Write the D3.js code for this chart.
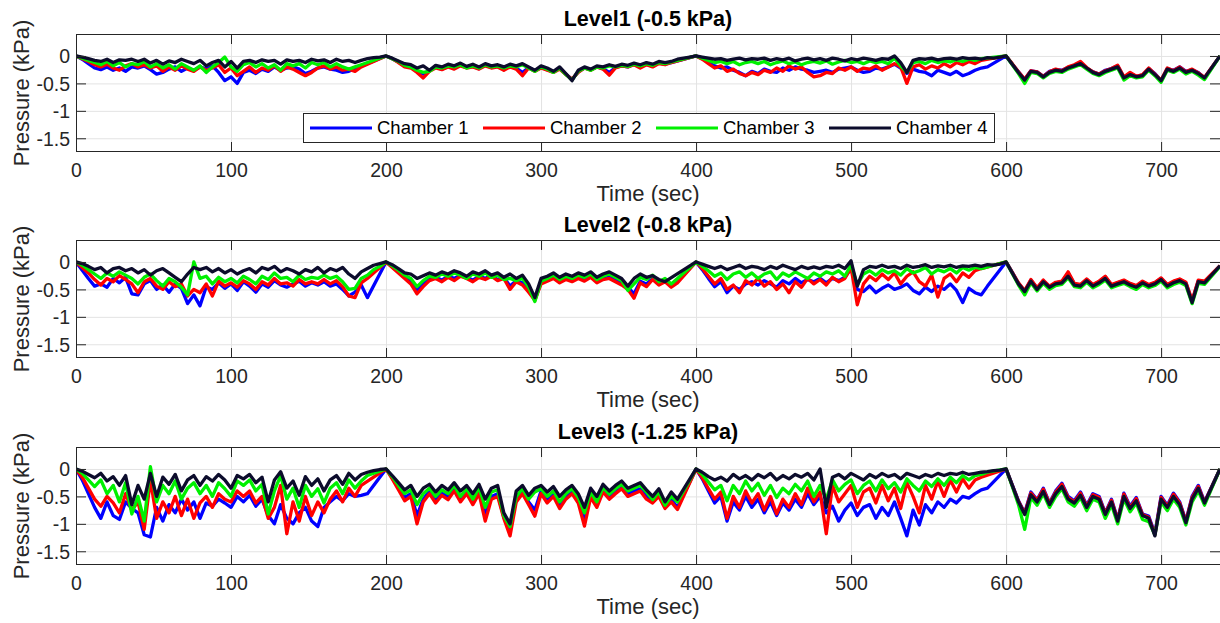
<!DOCTYPE html>
<html><head><meta charset="utf-8">
<script src="https://cdn.jsdelivr.net/npm/d3@7"></script>
<style>
body{margin:0;background:#fff}
svg{display:block}
text{font-family:"Liberation Sans",Arial,Helvetica,sans-serif}
</style>
</head><body>
<svg id="chart" width="1220" height="623"></svg>
<script>
// ---------------- DATA ----------------
const timeSec = [
0,4,8,12,16,20,24,28,32,36,
40,44,48,52,56,60,64,68,72,76,
80,84,88,92,96,100,104,108,112,116,
120,124,128,132,136,140,144,148,152,156,
160,164,168,172,176,180,184,188,192,196,
200,204,208,212,216,220,224,228,232,236,
240,244,248,252,256,260,264,268,272,276,
280,284,288,292,296,300,304,308,312,316,
320,324,328,332,336,340,344,348,352,356,
360,364,368,372,376,380,384,388,392,396,
400,404,408,412,416,420,424,428,432,436,
440,444,448,452,456,460,464,468,472,476,
480,484,488,492,496,500,504,508,512,516,
520,524,528,532,536,540,544,548,552,556,
560,564,568,572,576,580,584,588,592,596,
600,604,608,612,616,620,624,628,632,636,
640,644,648,652,656,660,664,668,672,676,
680,684,688,692,696,700,704,708,712,716,
720,724,728,732,736,738];

const seriesNames = ["Chamber 1","Chamber 2","Chamber 3","Chamber 4"];
const panelTitles = ["Level1 (-0.5 kPa)","Level2 (-0.8 kPa)","Level3 (-1.25 kPa)"];
const xTicks = [0,100,200,300,400,500,600,700];
const xTickLabels = ["0","100","200","300","400","500","600","700"];
const yTicks = [0,-0.5,-1,-1.5];
const yTickLabels = ["0","-0.5","-1","-1.5"];
const xLabel = "Time (sec)";
const yLabel = "Pressure (kPa)";

// Level 1
const L1_ch1 = [
0,-0.06,-0.14,-0.22,-0.25,-0.2,-0.26,-0.22,-0.28,-0.2,
-0.22,-0.18,-0.25,-0.33,-0.3,-0.24,-0.2,-0.28,-0.22,-0.26,
-0.2,-0.24,-0.18,-0.3,-0.45,-0.38,-0.5,-0.3,-0.26,-0.32,
-0.24,-0.28,-0.2,-0.26,-0.22,-0.2,-0.24,-0.32,-0.28,-0.22,
-0.2,-0.24,-0.26,-0.3,-0.28,null,null,null,null,null,
0,-0.05,-0.11,-0.18,-0.2,-0.28,-0.33,-0.26,-0.2,-0.24,
-0.19,-0.22,-0.17,-0.21,-0.19,-0.23,-0.17,-0.21,-0.19,-0.24,
-0.19,-0.22,-0.3,-0.21,-0.27,-0.21,-0.25,-0.29,-0.23,-0.33,
-0.43,-0.29,-0.22,-0.25,-0.2,-0.23,-0.3,-0.21,-0.18,-0.2,
-0.15,-0.2,-0.15,-0.19,-0.13,-0.15,-0.12,null,null,null,
0,-0.05,-0.12,-0.18,-0.22,-0.2,-0.26,-0.3,-0.36,-0.28,
-0.32,-0.24,-0.28,-0.3,-0.22,-0.26,-0.2,-0.24,-0.26,-0.3,
-0.28,-0.26,-0.3,-0.24,-0.22,-0.2,-0.26,-0.3,-0.28,-0.22,
-0.24,-0.2,-0.15,-0.22,-0.32,-0.24,-0.28,-0.3,-0.36,-0.26,
-0.3,-0.34,-0.28,-0.36,-0.32,-0.26,-0.22,-0.2,null,null,
0,-0.15,-0.29,-0.43,-0.27,-0.29,-0.37,-0.28,-0.25,-0.26,
-0.21,-0.17,-0.12,-0.22,-0.29,-0.33,-0.26,-0.23,-0.18,-0.39,
-0.32,-0.37,-0.35,-0.23,-0.32,-0.45,-0.23,-0.26,-0.2,-0.28,
-0.25,-0.3,-0.4,null,null,0];

const L1_ch2 = [
0,-0.05,-0.1,-0.16,-0.2,-0.15,-0.22,-0.26,-0.18,-0.14,
-0.2,-0.16,-0.22,-0.18,-0.28,-0.2,-0.26,-0.18,-0.24,-0.28,
-0.2,-0.26,-0.22,-0.16,-0.3,-0.22,-0.36,-0.28,-0.2,-0.3,
-0.22,-0.26,-0.18,-0.28,-0.2,-0.24,-0.3,-0.36,-0.3,-0.22,
-0.18,-0.24,-0.2,-0.26,-0.24,-0.28,-0.2,null,null,null,
0,-0.05,-0.12,-0.2,-0.22,-0.3,-0.4,-0.28,-0.22,-0.25,
-0.2,-0.24,-0.18,-0.22,-0.2,-0.24,-0.18,-0.22,-0.2,-0.26,
-0.2,-0.24,-0.36,-0.22,-0.28,-0.22,-0.26,-0.3,-0.24,-0.34,
-0.42,-0.3,-0.22,-0.26,-0.2,-0.24,-0.35,-0.22,-0.18,-0.2,
-0.16,-0.22,-0.16,-0.2,-0.14,-0.16,-0.12,null,null,null,
0,-0.06,-0.14,-0.22,-0.18,-0.28,-0.24,-0.32,-0.36,-0.3,
-0.34,-0.26,-0.3,-0.22,-0.28,-0.18,-0.24,-0.2,-0.3,-0.38,
-0.36,-0.3,-0.32,-0.22,-0.26,-0.2,-0.28,-0.22,-0.24,-0.18,
-0.26,-0.2,-0.14,-0.2,-0.5,-0.2,-0.16,-0.24,-0.18,-0.22,
-0.14,-0.2,-0.12,-0.16,-0.1,-0.14,-0.08,null,null,null,
0,-0.14,-0.29,-0.42,-0.27,-0.29,-0.37,-0.29,-0.24,-0.27,
-0.2,-0.16,-0.1,-0.21,-0.29,-0.33,-0.27,-0.23,-0.17,-0.38,
-0.3,-0.37,-0.34,-0.22,-0.33,-0.44,-0.22,-0.27,-0.2,-0.29,
-0.24,-0.31,-0.39,null,null,0];

const L1_ch3 = [
0,-0.04,-0.08,-0.12,-0.16,-0.1,-0.18,-0.12,-0.2,-0.14,
-0.16,-0.1,-0.2,-0.14,-0.22,-0.16,-0.24,-0.14,-0.2,-0.26,
-0.18,-0.3,-0.2,-0.12,-0.02,-0.2,-0.28,-0.16,-0.12,-0.2,
-0.14,-0.22,-0.16,-0.26,-0.14,-0.18,-0.14,-0.22,-0.12,-0.16,
-0.12,-0.2,-0.14,-0.2,-0.24,-0.2,-0.16,-0.12,null,null,
0,-0.05,-0.1,-0.17,-0.2,-0.26,-0.3,-0.28,-0.2,-0.22,
-0.18,-0.2,-0.16,-0.22,-0.18,-0.22,-0.16,-0.2,-0.18,-0.22,
-0.18,-0.2,-0.16,-0.22,-0.28,-0.2,-0.24,-0.3,-0.22,-0.34,
-0.44,-0.28,-0.22,-0.26,-0.2,-0.22,-0.18,-0.2,-0.17,-0.19,
-0.15,-0.18,-0.14,-0.17,-0.12,-0.14,-0.11,-0.08,null,null,
0,-0.04,-0.08,-0.12,-0.1,-0.14,-0.1,-0.16,-0.12,-0.1,
-0.14,-0.1,-0.16,-0.12,-0.09,-0.14,-0.11,-0.16,-0.12,-0.1,
-0.13,-0.09,-0.15,-0.11,-0.08,-0.12,-0.1,-0.14,-0.09,-0.12,
-0.1,-0.14,-0.04,-0.18,-0.3,-0.12,-0.1,-0.14,-0.08,-0.12,
-0.09,-0.11,-0.07,-0.1,-0.06,-0.08,-0.05,null,null,null,
0,-0.16,-0.32,-0.5,-0.3,-0.32,-0.4,-0.32,-0.28,-0.3,
-0.24,-0.2,-0.16,-0.24,-0.32,-0.36,-0.3,-0.26,-0.22,-0.44,
-0.36,-0.4,-0.38,-0.26,-0.36,-0.48,-0.26,-0.3,-0.24,-0.33,
-0.28,-0.35,-0.43,null,null,0];

const L1_ch4 = [
0,-0.02,-0.05,-0.08,-0.1,-0.06,-0.12,-0.07,-0.08,-0.06,
-0.1,-0.06,-0.13,-0.08,-0.15,-0.09,-0.12,-0.06,-0.1,-0.14,
-0.08,-0.18,-0.12,-0.08,-0.2,-0.1,-0.22,-0.1,-0.08,-0.12,
-0.07,-0.1,-0.08,-0.15,-0.07,-0.1,-0.08,-0.12,-0.06,-0.09,
-0.07,-0.12,-0.06,-0.1,-0.08,-0.12,-0.08,-0.05,-0.03,-0.02,
0,-0.04,-0.09,-0.14,-0.16,-0.22,-0.18,-0.26,-0.17,-0.2,
-0.15,-0.18,-0.13,-0.19,-0.15,-0.2,-0.14,-0.18,-0.16,-0.2,
-0.15,-0.18,-0.14,-0.2,-0.26,-0.18,-0.22,-0.28,-0.2,-0.32,
-0.45,-0.26,-0.2,-0.24,-0.18,-0.2,-0.16,-0.19,-0.15,-0.17,
-0.13,-0.16,-0.12,-0.15,-0.1,-0.12,-0.1,-0.06,-0.04,-0.02,
0,-0.02,-0.04,-0.06,-0.05,-0.08,-0.06,-0.04,-0.07,-0.05,
-0.06,-0.04,-0.08,-0.05,-0.07,-0.04,-0.09,-0.06,-0.04,-0.07,
-0.05,-0.08,-0.04,-0.06,-0.09,-0.05,-0.07,-0.04,-0.06,-0.08,
-0.05,-0.06,0,-0.12,-0.3,-0.08,-0.05,-0.06,-0.04,-0.07,
-0.05,-0.04,-0.06,-0.03,-0.05,-0.04,-0.06,-0.03,-0.04,-0.02,
0,-0.15,-0.3,-0.44,-0.28,-0.3,-0.38,-0.3,-0.26,-0.28,
-0.22,-0.18,-0.14,-0.22,-0.3,-0.34,-0.28,-0.24,-0.2,-0.4,
-0.34,-0.38,-0.36,-0.24,-0.34,-0.45,-0.24,-0.28,-0.22,-0.3,
-0.26,-0.32,-0.4,null,null,0];

// Level 2
const L2_ch1 = [
0,-0.15,-0.3,-0.44,-0.4,-0.46,-0.3,-0.38,-0.28,-0.58,
-0.6,-0.4,-0.34,-0.5,-0.42,-0.55,-0.4,-0.48,-0.76,-0.6,
-0.8,-0.45,-0.5,-0.38,-0.48,-0.4,-0.52,-0.36,-0.44,-0.55,
-0.4,-0.46,-0.34,-0.42,-0.46,-0.4,-0.35,-0.44,-0.38,-0.42,
-0.36,-0.44,-0.4,-0.5,-0.62,-0.55,-0.42,-0.65,null,null,
0,-0.09,-0.18,-0.27,-0.36,-0.5,-0.4,-0.3,-0.28,-0.33,
-0.26,-0.3,-0.24,-0.28,-0.33,-0.26,-0.3,-0.24,-0.32,-0.28,
-0.44,-0.34,-0.38,-0.5,-0.68,-0.38,-0.33,-0.28,-0.35,-0.3,
-0.33,-0.28,-0.32,-0.26,-0.35,-0.3,-0.28,-0.33,-0.38,-0.46,
-0.58,-0.35,-0.4,-0.3,-0.38,-0.33,-0.42,-0.35,null,null,
0,-0.14,-0.3,-0.45,-0.36,-0.56,-0.44,-0.5,-0.4,-0.36,
-0.42,-0.34,-0.4,-0.46,-0.34,-0.4,-0.3,-0.38,-0.32,-0.36,
-0.3,-0.38,-0.3,-0.34,-0.28,-0.12,-0.5,-0.54,-0.44,-0.56,
-0.48,-0.42,-0.5,-0.46,-0.4,-0.52,-0.58,-0.46,-0.54,-0.44,
-0.5,-0.4,-0.52,-0.74,-0.48,-0.56,-0.6,-0.44,null,null,
0,-0.19,-0.39,-0.53,-0.33,-0.48,-0.34,-0.45,-0.38,-0.36,
-0.2,-0.4,-0.42,-0.32,-0.42,-0.36,-0.27,-0.42,-0.38,-0.34,
-0.4,-0.44,-0.36,-0.42,-0.38,-0.3,-0.42,-0.36,-0.32,-0.38,
-0.72,-0.34,-0.36,null,null,-0.07];

const L2_ch2 = [
0,-0.1,-0.2,-0.32,-0.42,-0.3,-0.36,-0.25,-0.32,-0.4,
-0.56,-0.36,-0.3,-0.44,-0.5,-0.36,-0.45,-0.4,-0.62,-0.5,
-0.56,-0.4,-0.62,-0.35,-0.44,-0.38,-0.46,-0.34,-0.4,-0.5,
-0.36,-0.42,-0.3,-0.4,-0.38,-0.44,-0.32,-0.4,-0.36,-0.4,
-0.32,-0.4,-0.34,-0.45,-0.62,-0.65,-0.38,-0.3,-0.2,null,
0,-0.1,-0.2,-0.3,-0.4,-0.58,-0.45,-0.34,-0.3,-0.36,
-0.28,-0.34,-0.26,-0.3,-0.36,-0.28,-0.32,-0.26,-0.34,-0.3,
-0.5,-0.36,-0.42,-0.55,-0.7,-0.4,-0.35,-0.3,-0.38,-0.32,
-0.36,-0.3,-0.35,-0.28,-0.38,-0.32,-0.3,-0.36,-0.42,-0.5,
-0.66,-0.38,-0.45,-0.32,-0.42,-0.36,-0.46,-0.38,null,null,
0,-0.12,-0.26,-0.4,-0.3,-0.5,-0.42,-0.56,-0.34,-0.42,
-0.3,-0.44,-0.36,-0.5,-0.4,-0.56,-0.36,-0.46,-0.3,-0.4,
-0.32,-0.42,-0.28,-0.36,-0.3,-0.1,-0.78,-0.4,-0.26,-0.34,
-0.22,-0.32,-0.2,-0.4,-0.26,-0.18,-0.36,-0.44,-0.24,-0.64,
-0.3,-0.22,-0.36,-0.2,-0.28,-0.16,-0.12,null,null,null,
0,-0.19,-0.38,-0.52,-0.32,-0.47,-0.33,-0.44,-0.37,-0.35,
-0.18,-0.39,-0.41,-0.31,-0.41,-0.35,-0.26,-0.41,-0.37,-0.33,
-0.39,-0.43,-0.35,-0.41,-0.37,-0.29,-0.41,-0.35,-0.31,-0.37,
-0.7,-0.33,-0.35,null,null,-0.07];

const L2_ch3 = [
0,-0.06,-0.14,-0.22,-0.3,-0.2,-0.26,-0.18,-0.24,-0.3,
-0.4,-0.28,-0.22,-0.34,-0.44,-0.3,-0.36,-0.46,-0.6,0,
-0.3,-0.26,-0.4,-0.28,-0.36,-0.3,-0.38,-0.26,-0.32,-0.4,
-0.26,-0.32,-0.2,-0.3,-0.28,-0.36,-0.24,-0.32,-0.28,-0.3,
-0.24,-0.3,-0.26,-0.36,-0.5,-0.48,-0.3,-0.24,-0.14,-0.08,
0,-0.07,-0.15,-0.24,-0.3,-0.45,-0.34,-0.26,-0.28,-0.22,
-0.26,-0.2,-0.24,-0.3,-0.22,-0.26,-0.2,-0.28,-0.24,-0.32,
-0.3,-0.34,-0.3,-0.46,-0.72,-0.35,-0.3,-0.24,-0.32,-0.26,
-0.3,-0.24,-0.28,-0.22,-0.32,-0.26,-0.22,-0.28,-0.34,-0.52,
-0.4,-0.28,-0.32,-0.24,-0.36,-0.3,-0.4,-0.3,null,null,
0,-0.08,-0.16,-0.26,-0.2,-0.32,-0.22,-0.18,-0.28,-0.2,
-0.3,-0.22,-0.18,-0.32,-0.2,-0.26,-0.18,-0.24,-0.3,-0.2,
-0.26,-0.18,-0.22,-0.16,-0.26,-0.05,-0.42,-0.22,-0.16,-0.24,
-0.14,-0.2,-0.16,-0.24,-0.12,-0.2,-0.16,-0.1,-0.22,-0.14,
-0.18,-0.12,-0.2,-0.1,-0.15,-0.1,-0.12,null,null,null,
0,-0.21,-0.42,-0.6,-0.38,-0.53,-0.39,-0.5,-0.43,-0.41,
-0.29,-0.45,-0.47,-0.37,-0.47,-0.41,-0.33,-0.47,-0.43,-0.39,
-0.45,-0.5,-0.41,-0.47,-0.43,-0.35,-0.47,-0.41,-0.37,-0.43,
-0.76,-0.39,-0.41,null,null,-0.08];

const L2_ch4 = [
0,-0.03,-0.08,-0.14,-0.1,-0.2,-0.12,-0.1,-0.16,-0.12,
-0.2,-0.14,-0.24,-0.16,-0.12,-0.2,-0.28,-0.36,-0.22,-0.1,
-0.14,-0.1,-0.18,-0.12,-0.2,-0.14,-0.22,-0.16,-0.12,-0.2,
-0.1,-0.14,-0.08,-0.18,-0.12,-0.16,-0.22,-0.14,-0.18,-0.1,
-0.2,-0.12,-0.16,-0.1,-0.22,-0.3,-0.18,-0.12,-0.06,-0.03,
0,-0.05,-0.12,-0.2,-0.22,-0.3,-0.25,-0.2,-0.24,-0.18,
-0.22,-0.16,-0.2,-0.26,-0.18,-0.22,-0.16,-0.24,-0.2,-0.28,
-0.22,-0.3,-0.24,-0.4,-0.65,-0.3,-0.26,-0.2,-0.28,-0.22,
-0.26,-0.2,-0.24,-0.18,-0.28,-0.22,-0.18,-0.24,-0.3,-0.44,
-0.3,-0.22,-0.28,-0.25,-0.32,-0.36,null,null,null,null,
0,-0.04,-0.08,-0.12,-0.08,-0.14,-0.1,-0.06,-0.12,-0.08,
-0.1,-0.14,-0.08,-0.12,-0.06,-0.1,-0.14,-0.08,-0.12,-0.09,
-0.12,-0.08,-0.1,-0.06,-0.12,0.02,-0.44,-0.14,-0.08,-0.1,
-0.06,-0.1,-0.08,-0.12,-0.06,-0.1,-0.08,-0.05,-0.1,-0.07,
-0.09,-0.06,-0.1,-0.07,-0.08,-0.06,-0.08,-0.05,-0.06,-0.04,
0,-0.2,-0.4,-0.54,-0.35,-0.5,-0.36,-0.46,-0.4,-0.38,
-0.26,-0.42,-0.44,-0.34,-0.44,-0.38,-0.3,-0.44,-0.4,-0.36,
-0.42,-0.46,-0.38,-0.44,-0.4,-0.32,-0.44,-0.38,-0.34,-0.4,
-0.74,-0.36,-0.38,null,null,-0.07];

// Level 3
const L3_ch1 = [
0,-0.2,-0.45,-0.7,-0.9,-0.6,-0.85,-0.92,-0.6,-0.72,
-0.8,-1.2,-1.24,-0.7,-0.95,-0.65,-0.8,-0.55,-0.75,-0.6,
-0.9,-0.62,-0.68,-0.55,-0.62,-0.7,-0.5,-0.6,-0.48,-0.68,
-0.55,-0.85,-1.0,-0.65,-0.9,-1.0,-0.8,-0.7,-0.95,-1.05,
-0.7,-0.6,-0.5,-0.58,-0.45,-0.5,-0.48,-0.45,null,null,
0,-0.16,-0.34,-0.52,-0.45,-0.85,-0.55,-0.4,-0.56,-0.44,
-0.5,-0.36,-0.55,-0.42,-0.6,-0.4,-0.85,-0.5,-0.45,-0.88,
-1.1,-0.55,-0.4,-0.6,-0.75,-0.4,-0.56,-0.45,-0.66,-0.5,
-0.4,-0.56,-0.95,-0.48,-0.65,-0.38,-0.5,-0.4,-0.32,-0.45,
-0.4,-0.36,-0.5,-0.58,-0.46,-0.68,-0.55,-0.7,null,null,
0,-0.18,-0.4,-0.62,-0.5,-0.95,-0.6,-0.75,-0.5,-0.7,
-0.55,-0.8,-0.6,-0.85,-0.62,-0.75,-0.55,-0.7,-0.45,-0.65,
-0.5,-0.8,-0.68,-0.95,-0.75,-0.62,-0.85,-0.7,-0.65,-0.9,
-0.7,-0.85,-0.6,-0.9,-1.22,-0.75,-1.02,-0.65,-0.8,-0.6,
-0.7,-0.55,-0.62,-0.5,-0.53,-0.45,-0.38,-0.35,null,null,
0,-0.29,-0.58,-0.8,-0.42,-0.56,-0.35,-0.62,-0.4,-0.26,
-0.5,-0.58,-0.42,-0.66,-0.45,-0.5,-0.8,-0.55,-0.92,-0.44,
-0.68,-0.52,-0.82,-0.86,-1.18,-0.5,-0.66,-0.44,-0.6,-0.95,
-0.5,-0.3,-0.6,null,null,0];

const L3_ch2 = [
0,-0.15,-0.35,-0.55,-0.68,-0.5,-0.62,-0.8,-0.45,-0.75,
-0.6,-1.1,-0.2,-0.9,-0.6,-0.8,-0.5,-0.85,-0.55,-0.9,
-0.62,-0.5,-0.7,-0.45,-0.55,-0.6,-0.4,-0.5,-0.4,-0.62,
-0.5,-0.9,-0.7,-0.3,-1.18,-0.6,-0.95,-0.5,-0.85,-0.6,
-0.8,-0.55,-0.4,-0.6,-0.35,-0.5,-0.3,null,null,null,
0,-0.18,-0.38,-0.58,-0.5,-1.0,-0.6,-0.45,-0.62,-0.48,
-0.56,-0.4,-0.6,-0.45,-0.65,-0.45,-0.95,-0.55,-0.5,-0.9,
-1.22,-0.6,-0.45,-0.65,-0.86,-0.45,-0.62,-0.5,-0.72,-0.55,
-0.45,-0.62,-1.04,-0.52,-0.7,-0.42,-0.55,-0.45,-0.36,-0.5,
-0.45,-0.4,-0.55,-0.62,-0.5,-0.72,-0.6,-0.74,null,null,
0,-0.16,-0.36,-0.55,-0.42,-0.9,-0.5,-0.7,-0.4,-0.62,
-0.45,-0.75,-0.5,-0.82,-0.55,-0.7,-0.45,-0.65,-0.35,-0.6,
-0.42,-1.18,-0.3,-0.6,-0.45,-0.3,-0.7,-0.42,-0.35,-0.62,
-0.3,-0.58,-0.35,-0.72,-0.25,-0.5,-0.8,-0.3,-0.55,-0.22,
-0.5,-0.2,-0.42,-0.18,-0.35,-0.2,-0.15,null,null,null,
0,-0.3,-0.59,-0.81,-0.44,-0.57,-0.37,-0.63,-0.42,-0.28,
-0.52,-0.6,-0.44,-0.68,-0.47,-0.52,-0.81,-0.57,-0.93,-0.46,
-0.7,-0.54,-0.83,-0.88,-1.2,-0.52,-0.68,-0.46,-0.62,-0.96,
-0.52,-0.32,-0.61,null,null,0];

const L3_ch3 = [
0,-0.08,-0.2,-0.32,-0.2,-0.45,-0.3,-0.6,-0.25,-0.82,
-0.5,-0.95,0.04,-0.6,-0.3,-0.45,-0.22,-0.55,-0.35,-0.25,
-0.45,-0.3,-0.5,-0.25,-0.36,-0.5,-0.22,-0.3,-0.2,-0.4,
-0.28,-0.82,-0.4,-0.12,-0.55,-0.35,-0.7,-0.3,-0.5,-0.36,
-0.62,-0.35,-0.25,-0.45,-0.2,-0.35,-0.22,-0.12,null,null,
0,-0.14,-0.3,-0.45,-0.38,-0.65,-0.45,-0.35,-0.5,-0.38,
-0.45,-0.3,-0.5,-0.36,-0.55,-0.34,-0.7,-0.42,-0.38,-0.85,
-1.05,-0.5,-0.36,-0.55,-0.42,-0.36,-0.5,-0.4,-0.6,-0.45,
-0.36,-0.52,-0.8,-0.42,-0.6,-0.34,-0.46,-0.36,-0.28,-0.4,
-0.35,-0.3,-0.42,-0.56,-0.42,-0.66,-0.5,-0.6,null,null,
0,-0.1,-0.24,-0.38,-0.3,-0.58,-0.3,-0.45,-0.22,-0.4,
-0.26,-0.48,-0.3,-0.52,-0.35,-0.45,-0.28,-0.4,-0.22,-0.5,
-0.3,-0.55,-0.2,-0.4,-0.28,-0.2,-0.45,-0.3,-0.22,-0.4,
-0.2,-0.36,-0.25,-0.42,-0.18,-0.3,-0.4,-0.22,-0.32,-0.18,
-0.3,-0.15,-0.25,-0.12,-0.2,-0.12,-0.1,-0.06,null,null,
0,-0.32,-0.65,-1.1,-0.52,-0.66,-0.45,-0.7,-0.5,-0.36,
-0.6,-0.68,-0.52,-0.76,-0.55,-0.6,-0.9,-0.65,-1.0,-0.55,
-0.78,-0.62,-0.92,-0.96,-1.2,-0.6,-0.76,-0.55,-0.7,-1.02,
-0.6,-0.4,-0.66,null,null,0];

const L3_ch4 = [
0,-0.04,-0.1,-0.16,-0.08,-0.22,-0.14,-0.3,-0.12,-0.65,
-0.3,-0.55,-0.08,-0.5,-0.15,-0.28,-0.1,-0.4,-0.2,-0.12,
-0.3,-0.14,-0.22,-0.1,-0.2,-0.35,-0.12,-0.18,-0.1,-0.25,
-0.15,-0.6,-0.2,-0.05,-0.35,-0.22,-0.48,-0.14,-0.3,-0.18,
-0.4,-0.2,-0.12,-0.28,-0.08,-0.2,-0.1,-0.06,-0.03,-0.01,
0,-0.12,-0.25,-0.38,-0.3,-0.5,-0.35,-0.28,-0.42,-0.3,
-0.38,-0.25,-0.4,-0.3,-0.45,-0.28,-0.55,-0.35,-0.3,-0.8,
-1.0,-0.4,-0.3,-0.48,-0.35,-0.3,-0.42,-0.32,-0.5,-0.38,
-0.3,-0.45,-0.7,-0.35,-0.5,-0.28,-0.4,-0.3,-0.22,-0.35,
-0.3,-0.25,-0.38,-0.5,-0.36,-0.6,-0.42,-0.55,null,null,
0,-0.06,-0.14,-0.2,-0.15,-0.22,-0.1,-0.18,-0.12,-0.2,
-0.1,-0.16,-0.08,-0.2,-0.12,-0.18,-0.1,-0.15,-0.08,-0.2,
0,-0.7,-0.15,-0.1,-0.18,-0.08,-0.14,-0.2,-0.1,-0.16,
-0.08,-0.14,-0.1,-0.18,-0.08,-0.12,-0.16,-0.1,-0.14,-0.08,
-0.12,-0.08,-0.1,-0.06,-0.1,-0.08,-0.06,-0.05,-0.03,-0.02,
0,-0.3,-0.6,-0.83,-0.47,-0.6,-0.41,-0.65,-0.45,-0.32,
-0.55,-0.62,-0.48,-0.7,-0.5,-0.55,-0.83,-0.6,-0.95,-0.5,
-0.72,-0.58,-0.85,-0.9,-1.22,-0.55,-0.7,-0.5,-0.65,-0.98,
-0.55,-0.35,-0.62,null,null,0];

// ---------------- DRAW ----------------
const panelSeries = [
  [L1_ch1, L1_ch2, L1_ch3, L1_ch4],
  [L2_ch1, L2_ch2, L2_ch3, L2_ch4],
  [L3_ch1, L3_ch2, L3_ch3, L3_ch4]
];
const colors = ["#0000ff", "#ff0000", "#00f000", "#0c0c2c"];
const axisColor = "#262626";
const gridColor = "#e3e3e3";

const svg = d3.select("#chart");
const left = 76, right = 1220, ph = 118;
const tops = [34, 240, 447];
const x = d3.scaleLinear().domain([0, 738]).range([left, right]);

panelSeries.forEach((series, i) => {
  const top = tops[i], bottom = top + ph;
  const y = d3.scaleLinear().domain([-1.75, 0.4]).range([bottom, top]);
  const line = d3.line().x(d => x(d[0])).y(d => y(d[1]));
  const g = svg.append("g");

  // grid
  g.append("g").attr("transform", `translate(0,${bottom})`)
    .call(d3.axisBottom(x).tickValues(xTicks).tickSize(-ph).tickFormat(""))
    .call(s => { s.select(".domain").remove(); s.selectAll("line").attr("stroke", gridColor); });
  g.append("g").attr("transform", `translate(${left},0)`)
    .call(d3.axisLeft(y).tickValues(yTicks).tickSize(-(right - left)).tickFormat(""))
    .call(s => { s.select(".domain").remove(); s.selectAll("line").attr("stroke", gridColor); });

  // clip
  const cid = "clip" + i;
  svg.append("clipPath").attr("id", cid).append("rect")
    .attr("x", left).attr("y", top).attr("width", right - left).attr("height", ph);

  const lg = g.append("g").attr("clip-path", `url(#${cid})`);
  series.forEach((vals, k) => {
    if (vals.length !== timeSec.length) {
      svg.append("text").attr("x", 10).attr("y", 600 - 14 * (i * 4 + k)).attr("fill", "magenta")
        .text(`len mismatch panel ${i} series ${k}: ${vals.length}`);
    }
    // missing samples are skipped so the trace joins the next recorded sample directly
    const pts = timeSec.map((t, j) => [t, vals[j]]).filter(d => d[1] !== null && d[1] !== undefined);
    lg.append("path").datum(pts).attr("d", line)
      .attr("fill", "none").attr("stroke", colors[k]).attr("stroke-width", 3.3)
      .attr("stroke-linejoin", "round");
  });

  // axes with inward ticks
  const bx = g.append("g").attr("transform", `translate(0,${bottom})`)
    .call(d3.axisBottom(x).tickValues(xTicks).tickSize(-10).tickFormat((d, j) => xTickLabels[j]));
  bx.select(".domain").remove();
  bx.selectAll("line").attr("stroke", axisColor);
  bx.selectAll("text").attr("y", 25).attr("dy", 0).attr("fill", axisColor)
    .style("font-size", "19.5px");

  const tx = g.append("g").attr("transform", `translate(0,${top})`)
    .call(d3.axisTop(x).tickValues(xTicks).tickSize(-10).tickFormat(""));
  tx.select(".domain").remove();
  tx.selectAll("line").attr("stroke", axisColor);

  const ly = g.append("g").attr("transform", `translate(${left},0)`)
    .call(d3.axisLeft(y).tickValues(yTicks).tickSize(-10).tickFormat((d, j) => yTickLabels[j]));
  ly.select(".domain").remove();
  ly.selectAll("line").attr("stroke", axisColor);
  ly.selectAll("text").attr("x", -6).attr("dy", "0.35em").attr("fill", axisColor)
    .style("font-size", "19.5px");

  const ry = g.append("g").attr("transform", `translate(${right},0)`)
    .call(d3.axisRight(y).tickValues(yTicks).tickSize(-10).tickFormat(""));
  ry.select(".domain").remove();
  ry.selectAll("line").attr("stroke", axisColor);

  // box
  g.append("rect").attr("x", left + 0.5).attr("y", top + 0.5)
    .attr("width", right - left).attr("height", ph - 1)
    .attr("fill", "none").attr("stroke", axisColor).attr("stroke-width", 1);

  // title
  g.append("text").attr("x", (left + right) / 2).attr("y", top - 8)
    .attr("text-anchor", "middle").style("font-size", "21.5px").style("font-weight", "bold")
    .attr("fill", "#000").text(panelTitles[i]);

  // x label
  g.append("text").attr("x", (left + right) / 2).attr("y", bottom + 49)
    .attr("text-anchor", "middle").style("font-size", "22px").attr("fill", axisColor).text(xLabel);

  // y label
  g.append("text").attr("transform", `translate(29,${(top + bottom) / 2}) rotate(-90)`)
    .attr("text-anchor", "middle").style("font-size", "22px").attr("fill", axisColor).text(yLabel);

  // legend (first panel)
  if (i === 0) {
    const lx = 303, ly0 = 113, lw = 691, lh = 29;
    const leg = g.append("g");
    leg.append("rect").attr("x", lx + 0.5).attr("y", ly0 + 0.5).attr("width", lw).attr("height", lh)
      .attr("fill", "#fff").attr("stroke", axisColor);
    seriesNames.forEach((name, k) => {
      const x0 = lx + 7 + k * 173;
      const cy = ly0 + lh / 2 + 0.5;
      leg.append("line").attr("x1", x0).attr("x2", x0 + 62).attr("y1", cy).attr("y2", cy)
        .attr("stroke", colors[k]).attr("stroke-width", 3);
      leg.append("text").attr("x", x0 + 67).attr("y", cy).attr("dy", "0.35em")
        .style("font-size", "18.5px").attr("fill", "#000").text(name);
    });
  }
});
</script>
</body></html>
